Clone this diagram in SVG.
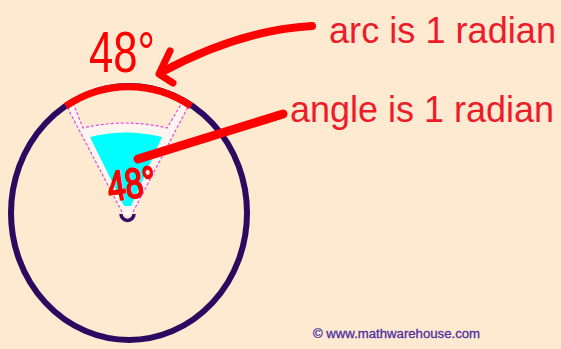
<svg xmlns="http://www.w3.org/2000/svg" width="561" height="349" viewBox="0 0 561 349">
<style>
.red{fill:none;stroke:#ff0000;stroke-linecap:round;stroke-linejoin:round}
.dash{fill:none;stroke:#e04be6;stroke-width:1.2;stroke-dasharray:3 2}
.lbl{fill:#ee1c2a;font-family:"Liberation Sans",Arial,sans-serif;font-size:37px}
.hand{fill:#ff0000;stroke:#ff0000;font-family:"Liberation Sans",Arial,sans-serif}
</style>
<rect width="561" height="349" fill="#fdead1"/>
<g id="circle">
<ellipse cx="129" cy="213" rx="118" ry="127" fill="none" stroke="#2b0a60" stroke-width="6"/>
</g>
<g id="sector">
<path d="M65,103 L122,212 A6,6 0 0 0 133,212 L190,103 L182,103 L167,128 Q125,118 83,128 L73,103 Z" fill="#fef6ee"/>
<path class="dash" d="M65,103 L122,212"/>
<path class="dash" d="M190,103 L133,212"/>
<path class="dash" d="M73,103 L83,128 Q125,118 167,128 L182,103"/>
<path d="M90,137 Q126,128 162,137 L131,206 L124,206 Z" fill="#00ffff"/>
<path d="M121,214 A6.5,6.5 0 0 0 134,214" fill="none" stroke="#3a0a6a" stroke-width="3.5"/>
</g>
<g id="arc">
<path d="M66,106 A118,127 0 0 1 191,106" fill="none" stroke="#ff0000" stroke-width="7"/>
</g>
<g id="connectors">
<path class="red" stroke-width="8" d="M312,26 Q240,30 162,72"/>
<path class="red" stroke-width="7" d="M170,51 L159,74 L173,83"/>
<path class="red" stroke-width="9" d="M283,114 L138,159"/>
</g>
<g id="label-arc-degrees">
<text class="hand" x="89" y="72" font-size="58" stroke-width="0" textLength="66" lengthAdjust="spacingAndGlyphs">48°</text>
</g>
<g id="label-angle-degrees">
<text class="hand" x="107" y="199" font-size="42" stroke-width="2" textLength="48" lengthAdjust="spacingAndGlyphs" transform="rotate(-8 125 180)">48°</text>
</g>
<g id="label-arc">
<text class="lbl" x="329" y="43" textLength="227" lengthAdjust="spacingAndGlyphs">arc is 1 radian</text>
</g>
<g id="label-angle">
<text class="lbl" x="290" y="122" textLength="264" lengthAdjust="spacingAndGlyphs">angle is 1 radian</text>
</g>
<g id="copyright">
<text x="313" y="338" fill="#4e30a0" stroke="#4e30a0" stroke-width="0.3" font-family="Liberation Sans,Arial,sans-serif" font-size="12.5" textLength="167" lengthAdjust="spacingAndGlyphs">© www.mathwarehouse.com</text>
</g>
</svg>
